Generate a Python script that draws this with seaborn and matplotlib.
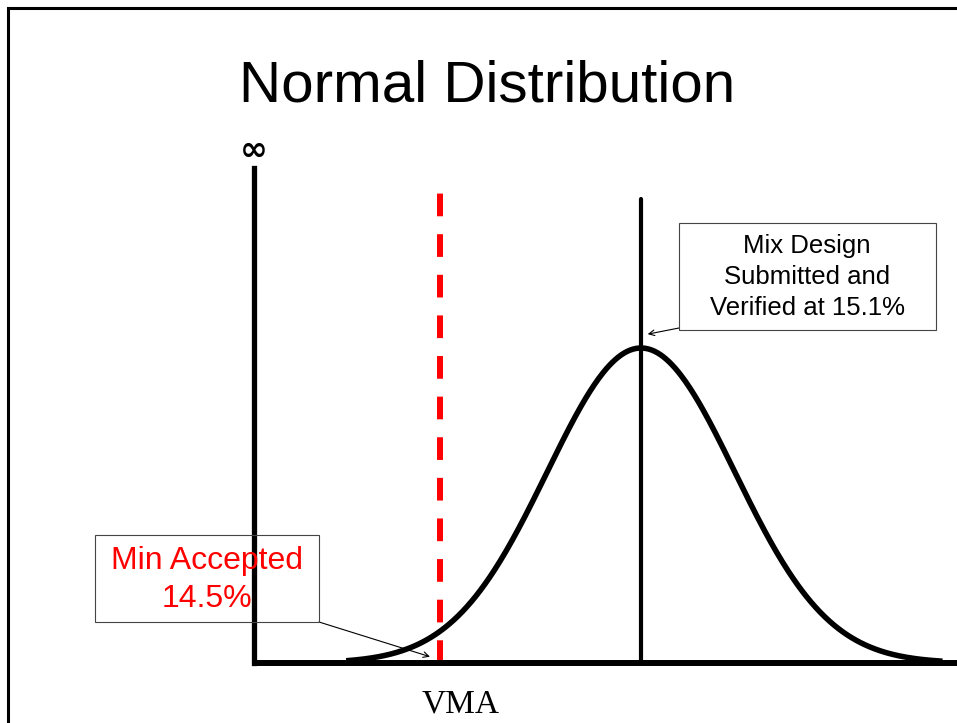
import numpy as np
import pandas as pd
import matplotlib
matplotlib.use('Agg')
import matplotlib.pyplot as plt
from matplotlib.patches import Rectangle
import seaborn as sb

# Values shown on the slide (VMA in %)
mix_design_vma = 15.1
min_accepted_vma = 14.5
vma_sd = 0.28
curve_range = [14.22, 16.0]
title_text = "Normal Distribution"
mix_label = "Mix Design\nSubmitted and\nVerified at 15.1%"
min_label = "Min Accepted\n14.5%"
x_label = "VMA"

W, H = 957, 723


def fpx(x, y):
    # top-left pixel position -> figure fraction
    return x / W, 1 - y / H


sb.set_style("white")
plt.rcParams['font.family'] = ['Liberation Sans', 'DejaVu Sans']
plt.rcParams['text.color'] = 'black'

# Bell curve
vma = np.linspace(curve_range[0], curve_range[1], 400)
density = np.exp(-0.5 * ((vma - mix_design_vma) / vma_sd) ** 2) / (vma_sd * np.sqrt(2 * np.pi))
df = pd.DataFrame({"vma": vma, "density": density})
peak = density.max()

fig = plt.figure(figsize=(W / 100, H / 100), dpi=100)

# axes: y axis at x=254 px, x axis at y=663 px, top at 168 px
x0, y_bot = 254, 663
y_top = 168
px_per_unit = 335
ax = fig.add_axes([x0 / W, 1 - y_bot / H, (W - x0) / W, (y_bot - y_top) / H])
ax.set_xlim(mix_design_vma - (641 - x0) / px_per_unit, mix_design_vma + (W - 641) / px_per_unit)
ax.set_ylim(0, peak * (y_bot - y_top) / 315)

sb.lineplot(data=df, x="vma", y="density", ax=ax, color="black", lw=4, solid_capstyle="butt")

# mean line and minimum line
ax.axvline(mix_design_vma, ymin=0, ymax=(y_bot - 199) / (y_bot - y_top), color="black", lw=3)
ax.axvline(min_accepted_vma, ymin=0, ymax=(y_bot - 192) / (y_bot - y_top), color="#FF0000",
           lw=4.3, linestyle=(0, (3.8, 3.0)))

# axis lines
for s in ["top", "right"]:
    ax.spines[s].set_visible(False)
ax.spines["left"].set_linewidth(3.8)
ax.spines["bottom"].set_linewidth(4.3)
ax.spines["left"].set_color("black")
ax.spines["bottom"].set_color("black")
ax.spines["bottom"].set_capstyle("butt")
ax.set_xticks([])
ax.set_yticks([])
ax.set_xlabel("")
ax.set_ylabel("")
ax.patch.set_alpha(0)

# infinity mark at top of y axis
ax.text(0.0, 1.0 + 18 / (y_bot - y_top), "\u221e", transform=ax.transAxes, ha="center", va="center",
        fontsize=24, fontweight="bold", family="DejaVu Sans", color="black")

# title and x label
fig.text(*fpx(487, 86), title_text, ha="center", va="center", fontsize=42, color="black")
fig.text(*fpx(461, 704), x_label, ha="center", va="center", fontsize=24, family="Liberation Serif",
         color="black")

# annotation boxes
bx, by = fpx(679, 330)
fig.add_artist(Rectangle((bx, by), (936 - 679) / W, (330 - 223) / H, transform=fig.transFigure,
                         fill=False, edgecolor="#444444", lw=0.8))
fig.text(*fpx(807, 277), mix_label, ha="center", va="center", fontsize=18.5, linespacing=1.39,
         color="black")

bx, by = fpx(95, 622)
fig.add_artist(Rectangle((bx, by), (319 - 95) / W, (622 - 535) / H, transform=fig.transFigure,
                         fill=False, edgecolor="#444444", lw=0.8))
fig.text(*fpx(207, 580), min_label, ha="center", va="center", fontsize=23, color="#FF0000",
         linespacing=1.39)

# arrows from boxes to the curve
ax.annotate("", xy=(mix_design_vma + 0.02, peak * 1.044), xycoords="data",
            xytext=(679, H - 328), textcoords="figure pixels",
            arrowprops=dict(arrowstyle="->", lw=0.8, color="black", shrinkA=0, shrinkB=0))
ax.annotate("", xy=(min_accepted_vma - 0.03, peak * 0.02), xycoords="data",
            xytext=(319, H - 622), textcoords="figure pixels",
            arrowprops=dict(arrowstyle="->", lw=0.8, color="black", shrinkA=0, shrinkB=0))

# slide frame (right and bottom edges cut off)
fx, fy = fpx(8, 8)
fig.add_artist(Rectangle((fx, -0.2), 2, fy + 0.2, transform=fig.transFigure,
                         fill=False, edgecolor="black", lw=2.2))

fig.savefig("out.png", dpi=100)
